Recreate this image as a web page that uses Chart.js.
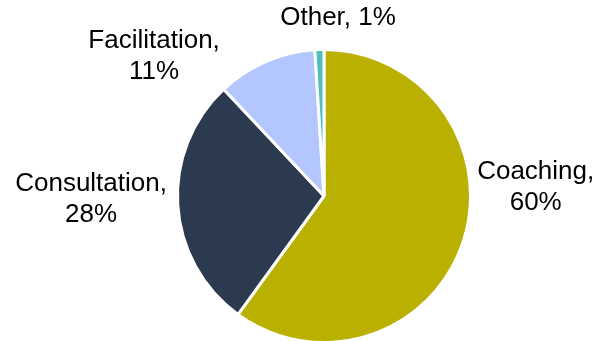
<!DOCTYPE html>
<html>
<head>
<meta charset="utf-8">
<script src="https://cdn.jsdelivr.net/npm/chart.js@4/dist/chart.umd.min.js"></script>
<style>
  html, body { margin: 0; padding: 0; background: #fff; overflow: hidden; }
  #wrap { width: 599px; height: 341px; overflow: hidden; }
</style>
</head>
<body>
<div id="wrap"><canvas id="c" width="599" height="346"></canvas></div>
<script>
const categories = ["Coaching", "Consultation", "Facilitation", "Other"];
const shares = [60, 28, 11, 1];
const sliceColors = ["#BAB000", "#2B3A4F", "#B3C7FE", "#4FBFBD"];

const labelPlugin = {
  id: "sliceLabels",
  afterDatasetsDraw(chart, args, opts) {
    const ctx = chart.ctx;
    const meta = chart.getDatasetMeta(0);
    ctx.save();
    ctx.font = opts.font;
    ctx.fillStyle = "#000";
    ctx.textAlign = "center";
    ctx.textBaseline = "middle";
    meta.data.forEach((arc, i) => {
      const r = arc.outerRadius;
      const off = opts.offsets[i];
      const x = arc.x + off[0] * r;
      const y = arc.y + off[1] * r;
      const lines = opts.twoLine[i]
        ? [categories[i] + ",", shares[i] + "%"]
        : [categories[i] + ", " + shares[i] + "%"];
      const lh = opts.lineHeight;
      const startY = y - (lines.length - 1) * lh / 2;
      lines.forEach((t, k) => ctx.fillText(t, x, startY + k * lh));
    });
    ctx.restore();
  }
};

new Chart(document.getElementById("c"), {
  type: "pie",
  data: {
    labels: categories,
    datasets: [{
      data: shares,
      backgroundColor: sliceColors,
      borderColor: "#ffffff",
      borderWidth: 3
    }]
  },
  options: {
    responsive: false,
    animation: false,
    rotation: 0,
    layout: { padding: { left: 176, right: 127, top: 48, bottom: 2 } },
    plugins: {
      legend: { display: false },
      tooltip: { enabled: false },
      sliceLabels: {
        font: "26px 'Liberation Sans', Arial, sans-serif",
        lineHeight: 31,
        twoLine: [true, true, true, false],
        offsets: [[1.445, -0.06], [-1.59, 0.02], [-1.16, -0.955], [0.096, -1.213]]
      }
    }
  },
  plugins: [labelPlugin]
});
</script>
</body>
</html>
